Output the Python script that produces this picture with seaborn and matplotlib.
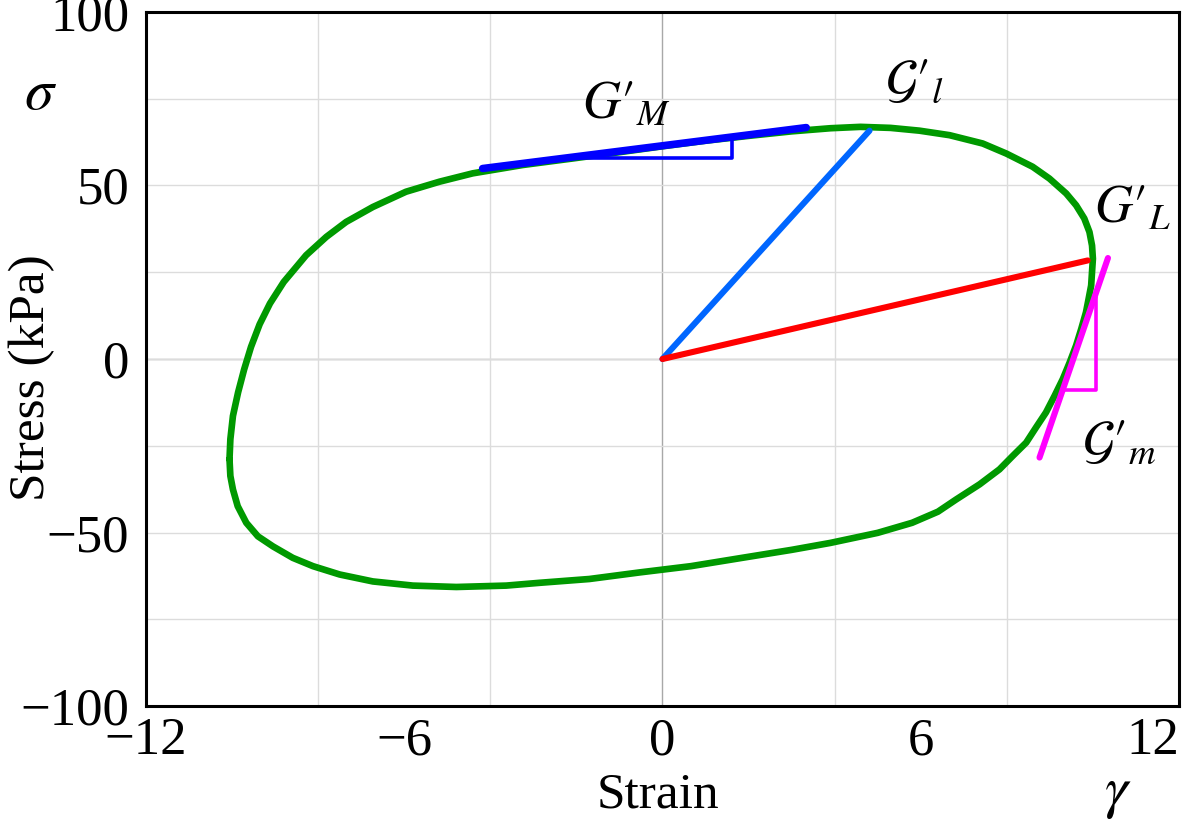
import numpy as np
import pandas as pd
import matplotlib
matplotlib.use("Agg")
import matplotlib.pyplot as plt
import seaborn as sns

# Lissajous loop (strain, stress in kPa)
loop_strain = [-10.06, -10.04, -9.98, -9.86, -9.72, -9.56, -9.36, -9.12, -8.80, -8.28,
               -7.81, -7.35, -6.73, -5.96, -5.18, -4.41, -3.25, -2.08, -1.0, 0.0,
               1.0, 2.0, 3.0, 3.9, 4.6, 5.3, 5.97, 6.67, 7.44, 7.99,
               8.60, 8.99, 9.38, 9.61, 9.80, 9.92, 9.98, 10.00, 9.98, 9.96,
               9.90, 9.84, 9.73, 9.61, 9.46, 9.30, 9.11, 8.91, 8.68, 8.45,
               8.14, 7.83, 7.37, 6.82, 6.4, 5.8, 5.0, 3.9, 3.0, 1.85,
               0.66, -0.53, -1.70, -2.86, -3.63, -4.79, -5.80, -6.73, -7.50, -8.12,
               -8.59, -9.05, -9.40, -9.67, -9.87, -9.98, -10.04, -10.06]
loop_stress = [-28.9, -23.1, -16.4, -9.6, -3.0, 3.5, 10.0, 16.0, 22.2, 29.9,
               35.2, 39.5, 43.8, 48.2, 51.1, 53.5, 55.9, 57.8, 59.6, 61.3,
               62.9, 64.3, 65.6, 66.5, 66.9, 66.6, 65.8, 64.5, 62.1, 59.2,
               55.4, 52.0, 47.7, 44.3, 40.5, 36.6, 32.7, 28.9, 25.1, 21.2,
               17.3, 13.5, 8.7, 3.9, -1.0, -5.8, -10.6, -15.4, -19.7, -24.1,
               -27.9, -31.8, -36.1, -40.5, -44.0, -47.2, -50.1, -53.0, -55.0, -57.3,
               -59.7, -61.5, -63.4, -64.5, -65.3, -65.7, -65.3, -64.1, -62.1, -59.7,
               -57.3, -54.0, -51.1, -47.2, -42.4, -37.6, -33.7, -28.9]

# tangent / secant moduli
gM_strain, gM_stress = [-4.18, 3.34], [54.9, 66.7]
gM_tri_strain, gM_tri_stress = [-2.3, 1.61, 1.61], [57.8, 57.8, 63.8]
gl_strain, gl_stress = [0.0, 4.81], [0.0, 65.8]
gL_strain, gL_stress = [0.0, 9.88], [0.0, 28.4]
gm_strain, gm_stress = [8.76, 10.35], [-28.4, 29.1]
gm_tri_strain, gm_tri_stress = [9.30, 10.07, 10.07], [-8.9, -8.9, 18.0]

x_ticks = [-12, -6, 0, 6, 12]
y_ticks = [-100, -50, 0, 50, 100]

sns.set_style("white")
plt.rcParams['font.family'] = ['Liberation Serif', 'DejaVu Serif']
plt.rcParams['mathtext.fontset'] = 'stix'
plt.rcParams['text.color'] = 'black'
plt.rcParams['xtick.color'] = 'black'
plt.rcParams['ytick.color'] = 'black'
plt.rcParams['axes.labelcolor'] = 'black'

fig = plt.figure(figsize=(11.88, 8.27), dpi=100)
ax = fig.add_axes([0.1229, 0.1463, 0.8695, 0.8392])

# grid
ax.xaxis.set_minor_locator(matplotlib.ticker.MultipleLocator(4))
ax.yaxis.set_minor_locator(matplotlib.ticker.MultipleLocator(25))
ax.grid(which='minor', axis='both', color='#dcdcdc', lw=1.0)
ax.grid(which='major', axis='y', color='#dcdcdc', lw=1.0)
ax.axhline(0, color='#a8a8a8', lw=1.0, zorder=0.5)
ax.axvline(0, color='#a8a8a8', lw=1.0, zorder=0.5)

def draw(xs, ys, color, lw, z=3):
    df = pd.DataFrame({'strain': xs, 'stress': ys})
    sns.lineplot(data=df, x='strain', y='stress', sort=False, estimator=None,
                 color=color, lw=lw, ax=ax, zorder=z,
                 solid_capstyle='round', solid_joinstyle='round')

draw(loop_strain, loop_stress, '#009900', 4.8, 2)
draw(gl_strain, gl_stress, '#0066ff', 4.4)
draw(gL_strain, gL_stress, '#ff0000', 4.4)
draw(gM_strain, gM_stress, '#0000ff', 5.4)
draw(gM_tri_strain, gM_tri_stress, '#0000ff', 2.6)
draw(gm_strain, gm_stress, '#ff00ff', 4.4)
draw(gm_tri_strain, gm_tri_stress, '#ff00ff', 2.6)

ax.set_xlim(-12, 12)
ax.set_ylim(-100, 100)
ax.set_xticks(x_ticks)
ax.set_yticks(y_ticks)
ax.tick_params(which='both', length=0, labelsize=38)
ax.tick_params(axis='x', pad=8)
ax.tick_params(axis='y', pad=12)
for s in ax.spines.values():
    s.set_color('black')
    s.set_linewidth(2.2)
    s.set_zorder(5)

ax.set_xlabel('Strain', fontsize=37)
ax.set_ylabel('Stress (kPa)', fontsize=37)
ax.xaxis.set_label_coords(0.496, -0.095)
ax.yaxis.set_label_coords(-0.088, 0.473)

ax.text(-0.1026, 0.880, r'$\sigma$', transform=ax.transAxes, fontsize=42,
        ha='center', va='center')
ax.text(0.941, -0.128, r'$\gamma$', transform=ax.transAxes, fontsize=42,
        ha='center', va='center')

ax.text(-0.84, 73.0, r"$G\prime_M$", fontsize=38, ha='center', va='center')
ax.text(5.85, 79.5, r"$\mathcal{G}\prime_l$", fontsize=38, ha='center', va='center')
ax.text(10.92, 43.0, r"$G\prime_L$", fontsize=38, ha='center', va='center')
ax.text(10.62, -24.5, r"$\mathcal{G}\prime_m$", fontsize=38, ha='center', va='center')

fig.canvas.draw()
labels = ax.get_xticklabels()
labels[-1].set_horizontalalignment('right')

fig.savefig('out.png', dpi=100)
